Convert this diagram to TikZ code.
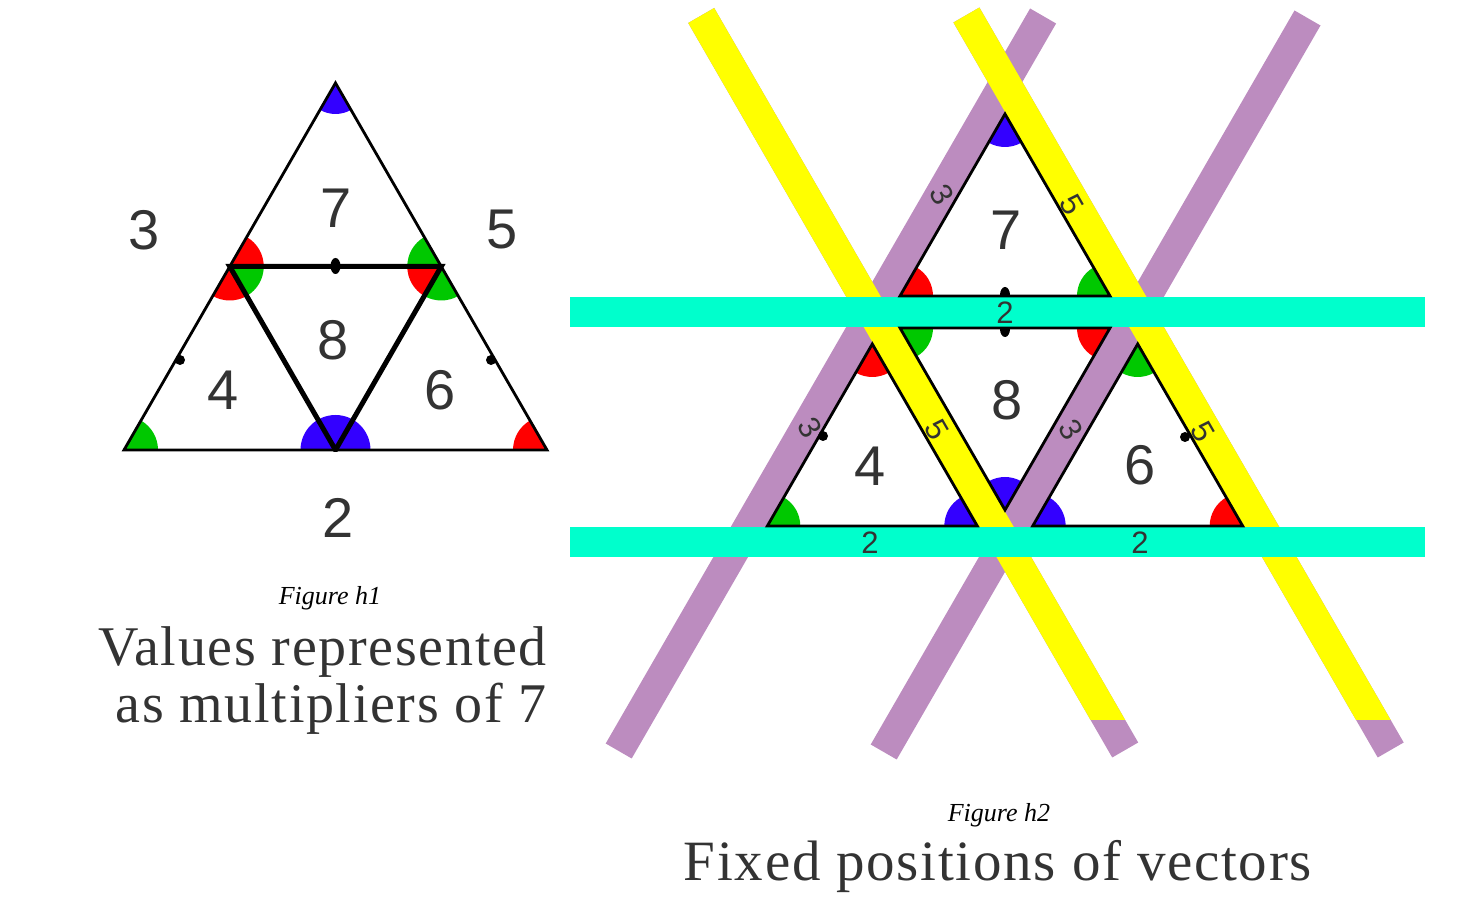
\documentclass[tikz,border=0pt]{standalone}
\usepackage{fontspec}
\setmainfont{Liberation Serif}
\newfontfamily\digitfont{Liberation Sans}
\newfontfamily\capfont[LetterSpace=3]{Liberation Serif}
\definecolor{sblue}{HTML}{3300FF}
\definecolor{sred}{HTML}{FF0000}
\definecolor{sgreen}{HTML}{00C800}
\definecolor{bpurple}{HTML}{BC8CBF}
\definecolor{byellow}{HTML}{FFFF00}
\definecolor{bcyan}{HTML}{00FFCC}
\definecolor{txt}{HTML}{333333}
\newcommand\mysector[5]{\fill[#1] (#2) -- ++(#3:#5) arc[start angle=#3,end angle=#4,radius=#5] -- cycle;}
\tikzset{
  outertri/.style={draw=black, line width=2.8pt, line join=miter},
  innertri/.style={draw=black, line width=5pt, line join=miter},
  num/.style={font=\digitfont\fontsize{56}{56}\selectfont, text=txt, inner sep=0pt},
  smallnum/.style={font=\digitfont\fontsize{31}{31}\selectfont, text=txt, inner sep=0pt},
  pband/.style={draw=bpurple, line width=30pt},
  yband/.style={draw=byellow, line width=30pt},
  cband/.style={fill=bcyan},
  figcap/.style={font=\itshape\fontsize{26}{26}\selectfont, inner sep=0pt},
  bigcap/.style={font=\capfont\fontsize{57}{57}\selectfont, text=txt, inner sep=0pt},
}
\begin{document}
\begin{tikzpicture}[x=1pt,y=1pt]
\useasboundingbox (0,0) rectangle (1470,916);
% ---------------- Figure h1 ----------------
\coordinate (T) at (335.5,833);
\coordinate (BL) at (124,466);
\coordinate (BR) at (547,466);
\coordinate (BM) at (335.5,466);
\coordinate (LM) at (229.75,649.5);
\coordinate (RM) at (441.25,649.5);
\mysector{sblue}{T}{240}{300}{31}
\mysector{sred}{LM}{0}{60}{34}
\mysector{sgreen}{LM}{300}{360}{34}
\mysector{sred}{LM}{240}{300}{34}
\mysector{sgreen}{RM}{120}{180}{34}
\mysector{sred}{RM}{180}{240}{34}
\mysector{sgreen}{RM}{240}{300}{34}
\mysector{sgreen}{BL}{0}{60}{34}
\mysector{sred}{BR}{120}{180}{34}
\mysector{sblue}{BM}{0}{180}{35}
\draw[outertri] (T) -- (BL) -- (BR) -- cycle;
\begin{scope}
\clip (0,464.6) rectangle (1470,916);
\draw[innertri] (LM) -- (RM) -- (BM) -- cycle;
\end{scope}
\fill (335.5,650) ellipse[x radius=5, y radius=8];
\fill (180,556) circle[radius=5];
\fill (491,556) circle[radius=5];
\node[num] (h1three) at (144,686) {3};
\node[num] (h1five) at (502,686) {5};
\node[num] (h1seven) at (336,708) {7};
\node[num] (h1eight) at (333,576) {8};
\node[num] (h1four) at (223,526) {4};
\node[num] (h1six) at (440,526) {6};
\node[num] (h1two) at (338,398) {2};
\node[figcap, anchor=base] (cap1) at (330,311) {Figure h1};
\node[bigcap, anchor=base east, font=\capfont\fontsize{56}{56}\selectfont] (title1a) at (547,250) {Values represented};
\node[bigcap, anchor=base east, font=\capfont\fontsize{56}{56}\selectfont] (title1b) at (547,193) {as multipliers of 7};
% ---------------- Figure h2 ----------------
\coordinate (A7) at (1005,802);
\coordinate (L7) at (900,620);
\coordinate (R7) at (1110,620);
\coordinate (L8) at (900,588);
\coordinate (R8) at (1110,588);
\coordinate (B8) at (1005,406);
\coordinate (A4) at (872.3,572);
\coordinate (L4) at (767.3,390);
\coordinate (R4) at (977.3,390);
\coordinate (A6) at (1137.7,572);
\coordinate (L6) at (1032.7,390);
\coordinate (R6) at (1242.7,390);
% sectors
\mysector{sblue}{A7}{240}{300}{33}
\mysector{sred}{L7}{0}{60}{33}
\mysector{sgreen}{R7}{120}{180}{33}
\mysector{sgreen}{L8}{300}{360}{33}
\mysector{sred}{R8}{180}{240}{33}
\mysector{sblue}{B8}{60}{120}{33}
\mysector{sred}{A4}{240}{300}{33}
\mysector{sgreen}{L4}{0}{60}{33}
\mysector{sblue}{R4}{120}{180}{33}
\mysector{sgreen}{A6}{240}{300}{33}
\mysector{sblue}{L6}{0}{60}{33}
\mysector{sred}{R6}{120}{180}{33}
\fill (1005,621) ellipse[x radius=5, y radius=8];
\fill (1005,587) ellipse[x radius=5, y radius=8];
% bands
\coordinate (P1a) at (618.7,165);
\coordinate (P1b) at (1043.1,900);
\coordinate (P2a) at (883.7,164);
\coordinate (P2b) at (1307.5,898);
\coordinate (Y1a) at (701.2,900.5);
\coordinate (Y1b) at (1125.2,166);
\coordinate (Y2a) at (966.4,901);
\coordinate (Y2b) at (1390.7,166);
\draw[pband] (P1a) -- (P1b);
\draw[pband] (P2a) -- (P2b);
\draw[pband] (Y1a) -- (Y1b);
\draw[pband] (Y2a) -- (Y2b);
\begin{scope}
\clip (0,196) rectangle (1470,916);
\draw[yband] (Y1a) -- (Y1b);
\draw[yband] (Y2a) -- (Y2b);
\end{scope}
\fill[cband] (570,589) rectangle (1425,619);
\fill[cband] (570,359) rectangle (1425,389);
% triangles
\draw[outertri] (A7) -- (L7) -- (R7) -- cycle;
\draw[outertri] (L8) -- (R8) -- (B8) -- cycle;
\draw[outertri] (A4) -- (L4) -- (R4) -- cycle;
\draw[outertri] (A6) -- (L6) -- (R6) -- cycle;
\fill (823,480) circle[radius=5];
\fill (1185,479) circle[radius=5];
% labels
\node[num] (h2seven) at (1006,686) {7};
\node[num] (h2eight) at (1007,516) {8};
\node[num] (h2four) at (870,450) {4};
\node[num] (h2six) at (1140,451) {6};
\node[smallnum] (b2a) at (1005,603) {2};
\node[smallnum] (b2b) at (870,373) {2};
\node[smallnum] (b2c) at (1140,373) {2};
\node[smallnum, rotate=-60] (b3a) at (942,721) {3};
\node[smallnum, rotate=-60] (b3b) at (810,488) {3};
\node[smallnum, rotate=-60] (b3c) at (1071,486) {3};
\node[smallnum, rotate=-60] (b5a) at (1072,711) {5};
\node[smallnum, rotate=-60] (b5b) at (937,486) {5};
\node[smallnum, rotate=-60] (b5c) at (1203,484) {5};
\node[figcap, anchor=base] (cap2) at (999,95) {Figure h2};
\node[bigcap, anchor=base] (title2) at (998,36) {Fixed positions of vectors};
\end{tikzpicture}
\end{document}
